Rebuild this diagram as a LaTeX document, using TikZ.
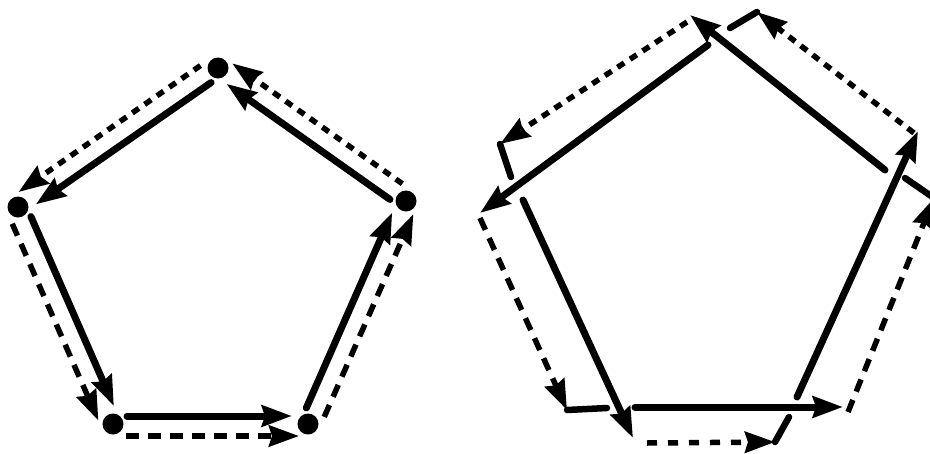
\documentclass[tikz,border=0pt]{standalone}
\usetikzlibrary{arrows.meta,calc}
\tikzset{
  vertice/.style={circle,fill=black,inner sep=0pt,minimum size=21pt},
  flecha/.style={-{Stealth[length=30pt,width=21pt,inset=3pt]},line width=7pt,line cap=round},
  flechac/.style={flecha,line width=5.5pt,line cap=butt,dash pattern=on 8pt off 7pt},
  flechal/.style={flecha,line width=5.5pt,line cap=butt,dash pattern=on 13pt off 9pt},
  quiebre/.style={line width=6.5pt,line cap=round},
  interior/.style={shorten <=14pt,shorten >=16pt},
  exterior/.style={shorten <=13pt,shorten >=9pt},
}
\begin{document}
\begin{tikzpicture}[x=1pt,y=-1pt]
\useasboundingbox (0,0) rectangle (930,453);
\clip (0,0) rectangle (930,453);

% pentagono cerrado
\node[vertice] (sup)  at (218,68)  {};
\node[vertice] (izq)  at (18,207)  {};
\node[vertice] (infi) at (113,424) {};
\node[vertice] (infd) at (308,424) {};
\node[vertice] (der)  at (406,201) {};

\draw[flecha,interior] ($(sup)!8pt!90:(izq)$)   -- ($(izq)!8pt!-90:(sup)$);
\draw[flecha,interior] ($(izq)!8pt!90:(infi)$)  -- ($(infi)!8pt!-90:(izq)$);
\draw[flecha,interior] ($(infi)!8pt!90:(infd)$) -- ($(infd)!8pt!-90:(infi)$);
\draw[flecha,interior] ($(infd)!8pt!90:(der)$)  -- ($(der)!8pt!-90:(infd)$);
\draw[flecha,interior] ($(der)!8pt!90:(sup)$)   -- ($(sup)!8pt!-90:(der)$);

\draw[flechac,exterior] ($(sup)!12pt!-90:(izq)$)   -- ($(izq)!12pt!90:(sup)$);
\draw[flechal,exterior] ($(izq)!12pt!-90:(infi)$)  -- ($(infi)!12pt!90:(izq)$);
\draw[flechal,exterior] ($(infi)!12pt!-90:(infd)$) -- ($(infd)!12pt!90:(infi)$);
\draw[flechal,exterior] ($(infd)!12pt!-90:(der)$)  -- ($(der)!12pt!90:(infd)$);
\draw[flechac,exterior] ($(der)!12pt!-90:(sup)$)   -- ($(sup)!12pt!90:(der)$);

% pentagono abierto: trazos que se pasan de los vertices
\coordinate (s1i) at (708,45);  \coordinate (s1f) at (480,213);
\coordinate (s2i) at (523,200); \coordinate (s2f) at (633,438);
\coordinate (s3i) at (635,407); \coordinate (s3f) at (843,407);
\coordinate (s4i) at (797,397); \coordinate (s4f) at (918,131);
\coordinate (s5i) at (885,170); \coordinate (s5f) at (690,15);

\draw[flecha] (s1i) -- (s1f);
\draw[flecha] (s2i) -- (s2f);
\draw[flecha] (s3i) -- (s3f);
\draw[flecha] (s4i) -- (s4f);
\draw[flecha] (s5i) -- (s5f);

\coordinate (d1i) at (687,22);  \coordinate (d1f) at (500,144);
\coordinate (d2i) at (480,218); \coordinate (d2f) at (567,410);
\coordinate (d3i) at (647,443); \coordinate (d3f) at (775,442);
\coordinate (d4i) at (848,412); \coordinate (d4f) at (934,198);
\coordinate (d5i) at (914,133); \coordinate (d5f) at (757,12);

\coordinate (q1) at (511,177);
\coordinate (q2) at (607,408);
\coordinate (q3) at (789,417);
\coordinate (q4) at (905,178);
\coordinate (q5) at (730,28);

\draw[flechac] (d1i) -- (d1f);
\draw[flechal] (d2i) -- (d2f);
\draw[flechal,dash pattern=on 10pt off 11pt] (d3i) -- (d3f);
\draw[flechal] (d4i) -- (d4f);
\draw[flechac] (d5i) -- (d5f);

\draw[quiebre] (d1f) -- (q1);
\draw[quiebre] (d2f) -- (q2);
\draw[quiebre] (d3f) -- (q3);
\draw[quiebre] (d4f) -- (q4);
\draw[quiebre] (d5f) -- (q5);

\end{tikzpicture}
\end{document}
